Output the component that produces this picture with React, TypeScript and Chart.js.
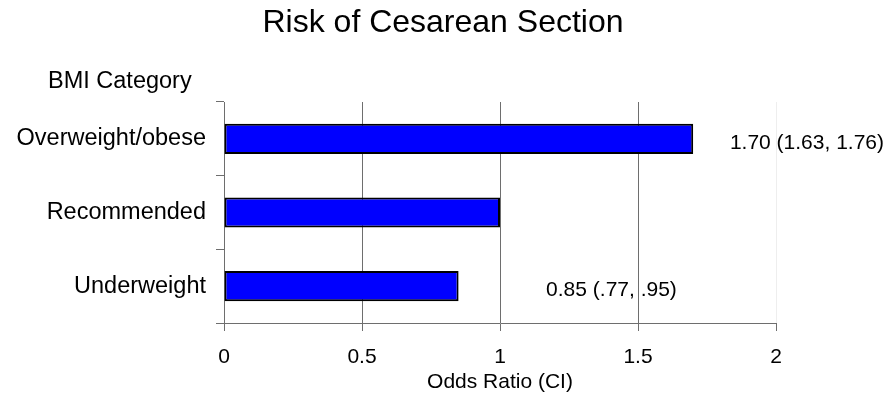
import React, { useEffect, useRef } from 'react';
import { Chart, registerables } from 'chart.js';

Chart.register(...registerables);

const categories = ['Overweight/obese', 'Recommended', 'Underweight'];
const oddsRatios = [1.7, 1.0, 0.85];
const ciLabels = ['1.70 (1.63, 1.76)', '', '0.85 (.77, .95)'];
const xTicks = [0, 0.5, 1, 1.5, 2];
const chartTitle = 'Risk of Cesarean Section';
const yTitle = 'BMI Category';
const xTitle = 'Odds Ratio (CI)';

const FONT = "'Liberation Sans', Arial, Helvetica, sans-serif";
const AXIS_GRAY = '#6e6e6e';

export default function App() {
  const ref = useRef<HTMLCanvasElement>(null);

  useEffect(() => {
    document.body.style.margin = '0';
    const canvas = ref.current;
    if (!canvas) return;

    const labelAnchors = [1.833, null, 1.167];

    const annotPlugin = {
      id: 'annot',
      afterDatasetsDraw(chart: any) {
        const { ctx, chartArea, width } = chart;
        const xs = chart.scales.x;
        const meta = chart.getDatasetMeta(0);
        ctx.save();
        ctx.fillStyle = '#000';
        ctx.textBaseline = 'middle';
        ctx.textAlign = 'left';
        ctx.font = `21px ${FONT}`;
        meta.data.forEach((el: any, i: number) => {
          const a = labelAnchors[i];
          if (!ciLabels[i] || a == null) return;
          ctx.fillText(ciLabels[i], xs.getPixelForValue(a), el.y + 4);
        });
        ctx.font = `23.5px ${FONT}`;
        ctx.fillText(yTitle, chartArea.left - 176, chartArea.top - 20);
        ctx.textAlign = 'center';
        ctx.font = `32px ${FONT}`;
        ctx.fillText(chartTitle, width / 2, 23);
        ctx.restore();
      },
    };

    const chart = new Chart(canvas, {
      type: 'bar',
      data: {
        labels: categories,
        datasets: [
          {
            data: oddsRatios,
            backgroundColor: '#0000FF',
            borderColor: '#000000',
            borderWidth: 2,
            borderSkipped: false,
            barPercentage: 0.41,
            categoryPercentage: 1,
          },
        ],
      },
      options: {
        indexAxis: 'y',
        responsive: false,
        animation: false,
        devicePixelRatio: 1,
        layout: { padding: { left: 0, right: 110, top: 102, bottom: 0 } },
        plugins: {
          legend: { display: false },
          tooltip: { enabled: false },
          title: { display: false },
        },
        scales: {
          x: {
            type: 'linear',
            min: xTicks[0],
            max: xTicks[xTicks.length - 1],
            ticks: {
              stepSize: xTicks[1] - xTicks[0],
              color: '#000',
              font: { family: FONT, size: 21 },
              padding: 14,
              maxRotation: 0,
              callback: (v: any) => String(Number(v)),
            },
            grid: {
              color: (c: any) => (c.tick && c.tick.value === xTicks[xTicks.length - 1] ? '#eeeeee' : AXIS_GRAY),
              tickColor: AXIS_GRAY,
              tickLength: 8,
              lineWidth: 1,
            },
            border: { color: AXIS_GRAY },
            title: {
              display: true,
              text: xTitle,
              color: '#000',
              font: { family: FONT, size: 21 },
              padding: { top: 0, bottom: 5 },
            },
            afterFit: (s: any) => {
              s.height = 77;
            },
          },
          y: {
            ticks: {
              color: '#000',
              font: { family: FONT, size: 23.5 },
              padding: 10,
            },
            grid: {
              drawOnChartArea: false,
              color: AXIS_GRAY,
              tickLength: 8,
              offset: true,
            },
            border: { color: AXIS_GRAY },
            afterFit: (s: any) => {
              s.width = 224;
            },
          },
        },
      },
      plugins: [annotPlugin],
    } as any);

    return () => chart.destroy();
  }, []);

  return (
    <div style={{ width: 886, height: 400 }}>
      <canvas ref={ref} width={886} height={400} style={{ width: '886px', height: '400px' }} />
    </div>
  );
}
